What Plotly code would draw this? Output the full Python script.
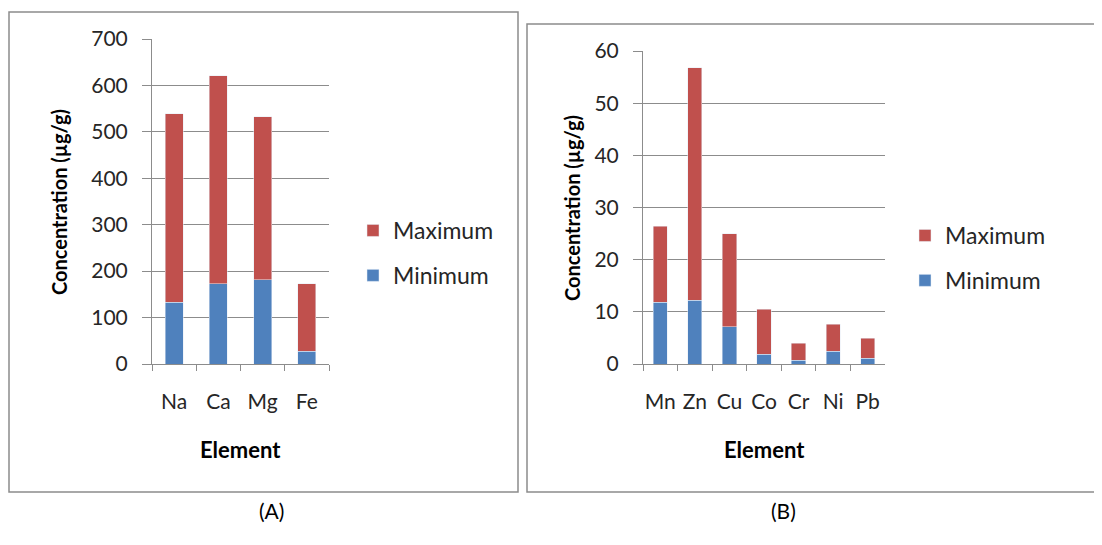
import plotly.graph_objects as go

# Panel A data
elements_a = ["Na", "Ca", "Mg", "Fe"]
minimum_a = [133, 173, 181, 27]
maximum_a = [406, 448, 352, 146]

# Panel B data
elements_b = ["Mn", "Zn", "Cu", "Co", "Cr", "Ni", "Pb"]
minimum_b = [11.8, 12.2, 7.1, 1.9, 0.7, 2.4, 1.15]
maximum_b = [14.6, 44.6, 17.9, 8.6, 3.3, 5.2, 3.75]

OFF = 8  # page body margin
W, H = 1102 - 2 * OFF, 545 - 2 * OFF
BLUE = "#4F81BD"
RED = "#C0504D"
GRID = "#8C8C8C"
FONT = "Lato, 'Open Sans', sans-serif"
TXT = "#262626"

def px(x):
    return (x - OFF) / W

def py(y):
    return 1 - (y - OFF) / H

fig = go.Figure()

fig.add_trace(go.Bar(x=elements_a, y=minimum_a, name="Minimum", marker_color=BLUE,
                     xaxis="x", yaxis="y", legend="legend", legendgroup="a1", legendrank=2))
fig.add_trace(go.Bar(x=elements_a, y=maximum_a, name="Maximum", marker_color=RED,
                     xaxis="x", yaxis="y", legend="legend", legendgroup="a2", legendrank=1))
fig.add_trace(go.Bar(x=elements_b, y=minimum_b, name="Minimum", marker_color=BLUE,
                     xaxis="x2", yaxis="y2", legend="legend2", legendgroup="b1", legendrank=2))
fig.add_trace(go.Bar(x=elements_b, y=maximum_b, name="Maximum", marker_color=RED,
                     xaxis="x2", yaxis="y2", legend="legend2", legendgroup="b2", legendrank=1))

xcommon = dict(type="category", showline=True, linecolor=GRID, linewidth=1,
               ticks="outside", tickson="boundaries", ticklen=6, tickcolor=GRID,
               showgrid=False, tickfont=dict(family=FONT, size=21, color=TXT),
               ticklabelstandoff=19, tickangle=0, automargin=False)
ycommon = dict(showline=True, linecolor=GRID, linewidth=1, showgrid=True,
               gridcolor=GRID, gridwidth=1, ticks="outside", ticklen=9,
               tickcolor=GRID, zeroline=False, automargin=False,
               tickfont=dict(family=FONT, size=21, color=TXT), ticklabelstandoff=10)

fig.update_layout(
    width=W, height=H,
    margin=dict(l=0, r=0, t=0, b=0, autoexpand=False),
    paper_bgcolor="white", plot_bgcolor="white",
    barmode="stack", bargap=0.59,
    showlegend=True,
    xaxis=dict(domain=[px(152), px(329)], anchor="y", **xcommon),
    yaxis=dict(domain=[py(364), py(39)], anchor="x", range=[0, 700], dtick=100, **ycommon),
    xaxis2=dict(domain=[px(643), px(885)], anchor="y2", **xcommon),
    yaxis2=dict(domain=[py(364), py(51)], anchor="x2", range=[0, 60], dtick=10, **ycommon),
    legend=dict(x=px(353), y=py(253), xanchor="left", yanchor="middle",
                traceorder="grouped", tracegroupgap=12,
                font=dict(family=FONT, size=23, color=TXT), bgcolor="rgba(0,0,0,0)"),
    legend2=dict(x=px(905), y=py(258), xanchor="left", yanchor="middle",
                 traceorder="grouped", tracegroupgap=12,
                 font=dict(family=FONT, size=23, color=TXT), bgcolor="rgba(0,0,0,0)"),
    font=dict(family=FONT, color=TXT),
)

# Chart frames (panel B frame runs off the right edge of the image)
fig.add_shape(type="rect", xref="paper", yref="paper", x0=px(9), x1=px(518), y0=py(492), y1=py(12),
              line=dict(color="#8C8C8C", width=1.5), fillcolor="rgba(0,0,0,0)", layer="below")
frame_b = "M{a},{t} L{l},{t} L{l},{b} L{a},{b}".format(a=1.0, l=px(527), t=py(24), b=py(492))
fig.add_shape(type="path", xref="paper", yref="paper", path=frame_b,
              line=dict(color="#8C8C8C", width=1.5), layer="below")

# Axis titles and panel captions
ann = [
    dict(text="<b>Element</b>", x=px(240), y=py(449), size=22, angle=0),
    dict(text="<b>Element</b>", x=px(764), y=py(449), size=22, angle=0),
    dict(text="<b>Concentration (µg/g)</b>", x=px(59), y=py(202), size=20, angle=-90),
    dict(text="<b>Concentration (µg/g)</b>", x=px(572), y=py(208), size=20, angle=-90),
    dict(text="(A)", x=px(271), y=py(510), size=21, angle=0),
    dict(text="(B)", x=px(783), y=py(510), size=21, angle=0),
]
for a in ann:
    fig.add_annotation(text=a["text"], x=a["x"], y=a["y"], xref="paper", yref="paper",
                       xanchor="center", yanchor="middle", showarrow=False, textangle=a["angle"],
                       font=dict(family=FONT, size=a["size"], color="#000000"))

fig.write_html("out.html")
